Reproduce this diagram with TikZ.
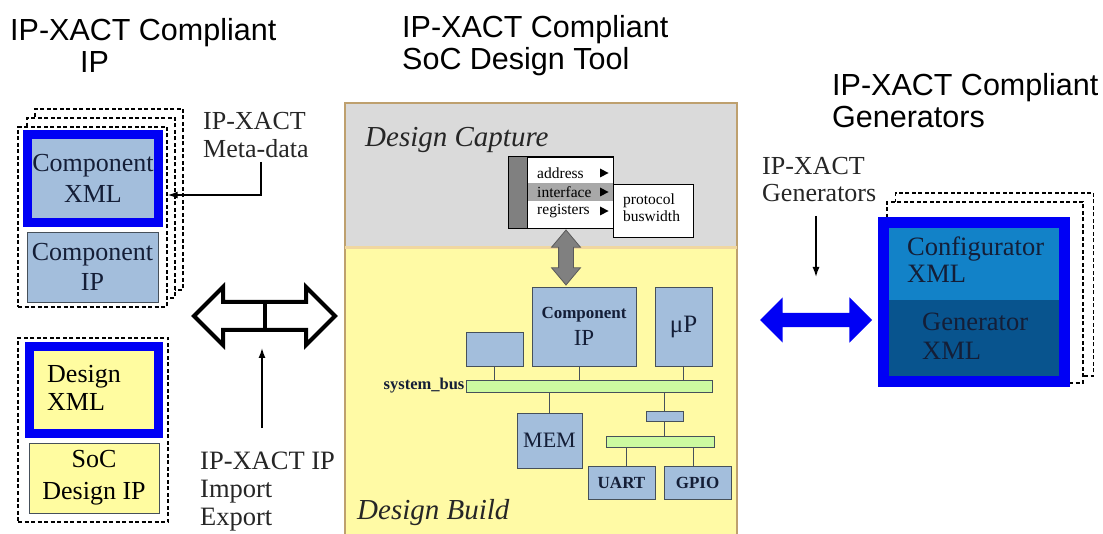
\documentclass[tikz,border=0pt]{standalone}
\usepackage{fontspec}
\setmainfont{Liberation Serif}
\newfontfamily\hdfont{Liberation Sans}
\usetikzlibrary{shapes.arrows,arrows.meta}
\definecolor{xblue}{RGB}{0,0,245}
\definecolor{lblue}{RGB}{163,190,220}
\definecolor{lyel}{RGB}{255,252,160}
\definecolor{panelyel}{RGB}{255,250,165}
\definecolor{panelgray}{RGB}{218,218,218}
\definecolor{panelline}{RGB}{190,160,110}
\definecolor{sepline}{RGB}{240,215,160}
\definecolor{busgreen}{RGB}{204,250,160}
\definecolor{boxline}{RGB}{70,80,90}
\definecolor{cfgblue}{RGB}{18,130,200}
\definecolor{genblue}{RGB}{8,84,142}
\definecolor{darktxt}{RGB}{20,30,55}
\definecolor{bargray}{RGB}{128,128,128}
\definecolor{hlgray}{RGB}{168,168,168}
\definecolor{arrgray}{RGB}{90,90,90}
\tikzset{
  head/.style={anchor=north west, inner sep=0, align=left, font=\hdfont\fontsize{30.5}{32}\selectfont},
  lbl/.style={anchor=north west, inner sep=0, align=left},
  frame/.style={draw=black, dashed, dash pattern=on 4pt off 2.5pt, line width=1.4pt, fill=white, inner sep=0},
  bbox/.style={draw=xblue, line width=9pt, inner sep=0, align=center},
  pbox/.style={draw=boxline, line width=0.9pt, inner sep=0, align=center},
  cbox/.style={draw=boxline, line width=0.8pt, fill=lblue, inner sep=0, align=center},
  bus/.style={draw=boxline, line width=0.8pt, fill=busgreen, inner sep=0},
  wire/.style={draw=boxline, line width=0.9pt},
  conn/.style={draw=black, line width=1.4pt, -{Latex[length=10pt,width=7pt]}},
  item/.style={anchor=west, inner sep=0, font=\fontsize{15.5}{17}\selectfont}
}
\begin{document}
\begin{tikzpicture}[x=1pt,y=-1pt]
\useasboundingbox (0,0) rectangle (1103,534);
\fill[white] (0,0) rectangle (1103,534);

% headings
\node[head] (h1) at (10,18) {IP-XACT Compliant\\\hspace*{70pt}IP};
\node[head] (h2) at (402,15) {IP-XACT Compliant\\SoC Design Tool};
\node[head] (h3) at (832,73) {IP-XACT Compliant\\Generators};

% ---------- left: component stack
\node[frame, minimum width=148pt, minimum height=181pt] (fL3) at (109,199.5) {};
\node[frame, minimum width=148pt, minimum height=180pt] (fL2) at (101,208) {};
\node[frame, minimum width=149pt, minimum height=180pt] (fL1) at (92.5,217) {};
\node[bbox, fill=lblue, minimum width=131pt, minimum height=88pt, text=darktxt,
      font=\fontsize{26}{31}\selectfont] (cxml) at (93,178.5) {Component\\XML};
\node[pbox, fill=lblue, minimum width=131pt, minimum height=70pt, text=darktxt,
      font=\fontsize{26}{30}\selectfont] (cip) at (92.5,267) {Component\\IP};

% meta-data label and arrow
\node[lbl, font=\fontsize{26}{28}\selectfont, text=black!85] (meta) at (203,112) {IP-XACT\\Meta-data};
\coordinate (mdTurn) at (261,195);
\draw[conn, shorten <=4pt] (meta.south -| mdTurn) -- (mdTurn) -- (mdTurn -| fL1.east);

% ---------- left: design
\node[frame, minimum width=150pt, minimum height=184pt] (fD) at (93,430) {};
\node[bbox, fill=lyel, minimum width=129pt, minimum height=87pt] (dxml) at (94,390) {};
\node[lbl, font=\fontsize{26}{28}\selectfont] (dxmlt) at (47,365) {Design\\XML};
\node[pbox, fill=lyel, minimum width=130pt, minimum height=70pt,
      font=\fontsize{26}{32}\selectfont] (soc) at (94,478) {SoC\\Design IP};

% import/export arrow
\node[double arrow, draw=black, line width=4pt, fill=white, minimum height=141pt,
      double arrow head extend=15pt, inner xsep=0pt, inner ysep=12pt] (io) at (264.5,316) {};
\draw[line width=4pt] ([yshift=12pt]io.center) -- ([yshift=-12pt]io.center);
\node[lbl, font=\fontsize{26.5}{28}\selectfont, text=black!85] (imp) at (200,452) {IP-XACT IP\\Import\\Export};
\coordinate (impTip) at (262,348);
\draw[conn, shorten <=24pt] (imp.north -| impTip) -- (impTip);

% ---------- center panel
\node[draw=panelline, line width=1.5pt, fill=panelyel, minimum width=392pt,
      minimum height=298pt, inner sep=0] (build) at (541,396) {};
\node[draw=panelline, line width=1.5pt, fill=panelgray, minimum width=392pt,
      minimum height=144pt, inner sep=0] (capture) at (541,175) {};
\draw[sepline, line width=3pt] ([xshift=1pt]capture.south west) -- ([xshift=-1pt]capture.south east);
\node[lbl, font=\itshape\fontsize{29}{30}\selectfont, text=black!85] (dcap) at (365,127) {Design Capture};
\node[lbl, font=\itshape\fontsize{29}{30}\selectfont, text=black!85] (dbuild) at (357,499) {Design Build};

% menu widget
\node[draw=black, fill=white, line width=0.8pt, minimum width=104pt,
      minimum height=71pt, inner sep=0] (menu) at (561,192.5) {};
\fill[hlgray] (527,183) rectangle (613,201);
\draw[fill=bargray, line width=0.8pt] (menu.north west) rectangle (527,228);
\draw[line width=0.8pt] (menu.north west) rectangle (menu.south east);
\node[item] (mAddr) at (537,173) {address};
\node[item] (mIf) at (537,192) {interface};
\node[item] (mReg) at (537,211) {registers};
\fill (600,168.5) -- (608.5,173) -- (600,177.5) -- cycle;
\fill (600,187.5) -- (608.5,192) -- (600,196.5) -- cycle;
\fill (600,206.5) -- (608.5,211) -- (600,215.5) -- cycle;
\node[draw=black, fill=white, line width=0.8pt, minimum width=80pt,
      minimum height=53pt, inner sep=0] (sub) at (653,210.5) {};
\node[lbl, font=\fontsize{15.5}{17}\selectfont] (subt) at (623,194) {protocol\\buswidth};

% capture <-> build arrow
\node[double arrow, rotate=90, fill=bargray, draw=arrgray, line width=0.8pt,
      minimum height=55pt, double arrow head extend=7pt,
      double arrow tip angle=80, inner xsep=0pt, inner ysep=7pt] (capArrow) at (566,257.5) {};

% build components
\node[cbox, minimum width=104pt, minimum height=79pt, text=darktxt,
      font=\fontsize{23}{27}\selectfont] (bcip) at (584,326.5)
  {{\bfseries\fontsize{17}{20}\selectfont Component}\\IP};
\node[cbox, minimum width=57pt, minimum height=79pt, text=darktxt,
      font=\fontsize{25}{26}\selectfont] (up) at (683.5,326.5) {\raisebox{4pt}{μP}};
\node[cbox, minimum width=57pt, minimum height=34pt] (sbox) at (494.5,349) {};
\node[bus, minimum width=246pt, minimum height=12pt] (sysbus) at (589,386) {};
\node[anchor=east, inner sep=1pt, text=darktxt, font=\bfseries\fontsize{16.5}{18}\selectfont] (sbl) at (sysbus.west) {system\_bus};
\node[cbox, minimum width=65pt, minimum height=55pt, text=darktxt,
      font=\fontsize{22}{24}\selectfont] (mem) at (549.5,440.5) {MEM};
\node[cbox, minimum width=37pt, minimum height=10pt] (bridge) at (664.5,416) {};
\node[bus, minimum width=108pt, minimum height=11pt] (bus2) at (660,441.5) {};
\node[cbox, minimum width=67pt, minimum height=33pt, text=darktxt,
      font=\bfseries\fontsize{17}{18}\selectfont] (uart) at (621.5,482.5) {UART};
\node[cbox, minimum width=67pt, minimum height=33pt, text=darktxt,
      font=\bfseries\fontsize{17}{18}\selectfont] (gpio) at (697.5,482.5) {GPIO};
\draw[wire] (sbox.south) -- (sbox.south |- sysbus.north);
\draw[wire] ([xshift=-5pt]bcip.south) -- ([xshift=-5pt]bcip.south |- sysbus.north);
\draw[wire] (up.south) -- (up.south |- sysbus.north);
\draw[wire] (sysbus.south -| mem.north) -- (mem.north);
\draw[wire] (sysbus.south -| bridge.north) -- (bridge.north);
\draw[wire] (bridge.south) -- (bridge.south |- bus2.north);
\draw[wire] ([xshift=5pt]bus2.south -| uart.north) -- ([xshift=5pt]uart.north);
\draw[wire] ([xshift=-4pt]bus2.south -| gpio.north) -- ([xshift=-4pt]gpio.north);

% ---------- right: generators
\node[frame, minimum width=198pt, minimum height=183pt] (gB) at (994.5,284.5) {};
\node[frame, minimum width=196pt, minimum height=181pt] (gA) at (985,292.5) {};
\node[draw=xblue, line width=11pt, fill=genblue, minimum width=181pt,
      minimum height=159pt, inner sep=0] (gen) at (974,302) {};
\node[fill=cfgblue, inner sep=0, minimum width=170pt, minimum height=72pt] (cfg) at (974,264) {};
\node[lbl, text=darktxt, font=\rmfamily\fontsize{26.5}{27}\selectfont] (cfgt) at (907,237) {Configurator\\XML};
\node[lbl, text=darktxt, font=\rmfamily\fontsize{26.5}{29}\selectfont] (gent) at (922,313) {Generator\\XML};

\node[double arrow, fill=xblue, minimum height=112pt,
      double arrow head extend=15.5pt, inner xsep=0pt, inner ysep=7pt] (genArrow) at (816,320) {};
\node[lbl, font=\fontsize{26}{27}\selectfont, text=black!85] (genl) at (762,157) {IP-XACT\\Generators};
\coordinate (genTip) at (816,277);
\draw[conn, shorten <=14pt] (genl.south -| genTip) -- (genTip);
\end{tikzpicture}
\end{document}
